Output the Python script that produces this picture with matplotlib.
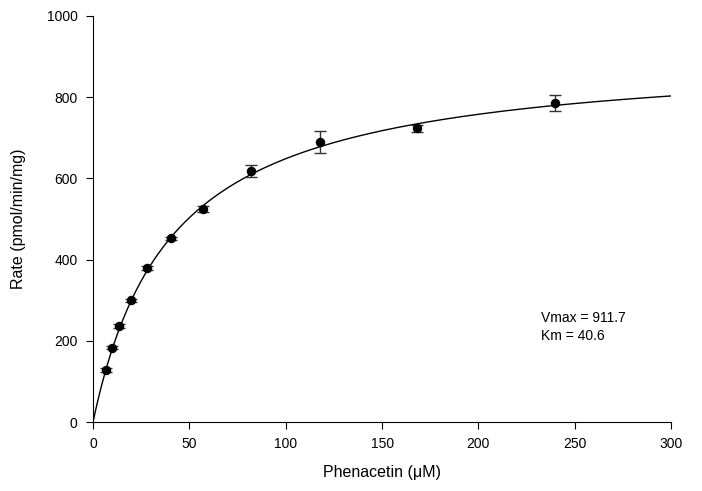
import numpy as np
import matplotlib
matplotlib.use("Agg")
import matplotlib.pyplot as plt

plt.rcParams['font.family'] = ['Liberation Sans', 'DejaVu Sans']

conc = [6.5, 9.7, 13.6, 19.6, 28.0, 40.3, 57.2, 82.0, 118.0, 168.0, 239.7]
rate = [128, 183, 236, 300, 379, 452, 524, 618, 689, 723, 786]
err = [4, 4, 5, 4, 4, 3, 8, 14, 27, 8, 20]
vmax = 911.7
km = 40.6

fig = plt.figure(figsize=(7.02, 4.91), dpi=100)
ax = fig.add_axes([0.1325, 0.1405, 0.8235, 0.827])

xs = np.linspace(0, 300, 400)
ax.plot(xs, vmax * xs / (km + xs), color='black', lw=1.0)
ax.errorbar(conc, rate, yerr=err, fmt='o', color='black', ms=5.8,
            ecolor='#333333', elinewidth=1.0, capsize=4.2, capthick=1.0)

ax.set_xlim(0, 300)
ax.set_ylim(0, 1000)
ax.set_xticks(np.arange(0, 301, 50))
ax.set_yticks(np.arange(0, 1001, 200))
ax.spines['top'].set_visible(False)
ax.spines['right'].set_visible(False)
ax.tick_params(direction='out', length=5, labelsize=10, pad=6)
ax.set_xlabel('Phenacetin (μM)', fontsize=11.5, labelpad=10)
ax.set_ylabel('Rate (pmol/min/mg)', fontsize=11.5, labelpad=15)

ax.text(232.5, 256, 'Vmax = 911.7', fontsize=10, va='center')
ax.text(232.5, 212, 'Km = 40.6', fontsize=10, va='center')

fig.savefig('out.png', dpi=100)
